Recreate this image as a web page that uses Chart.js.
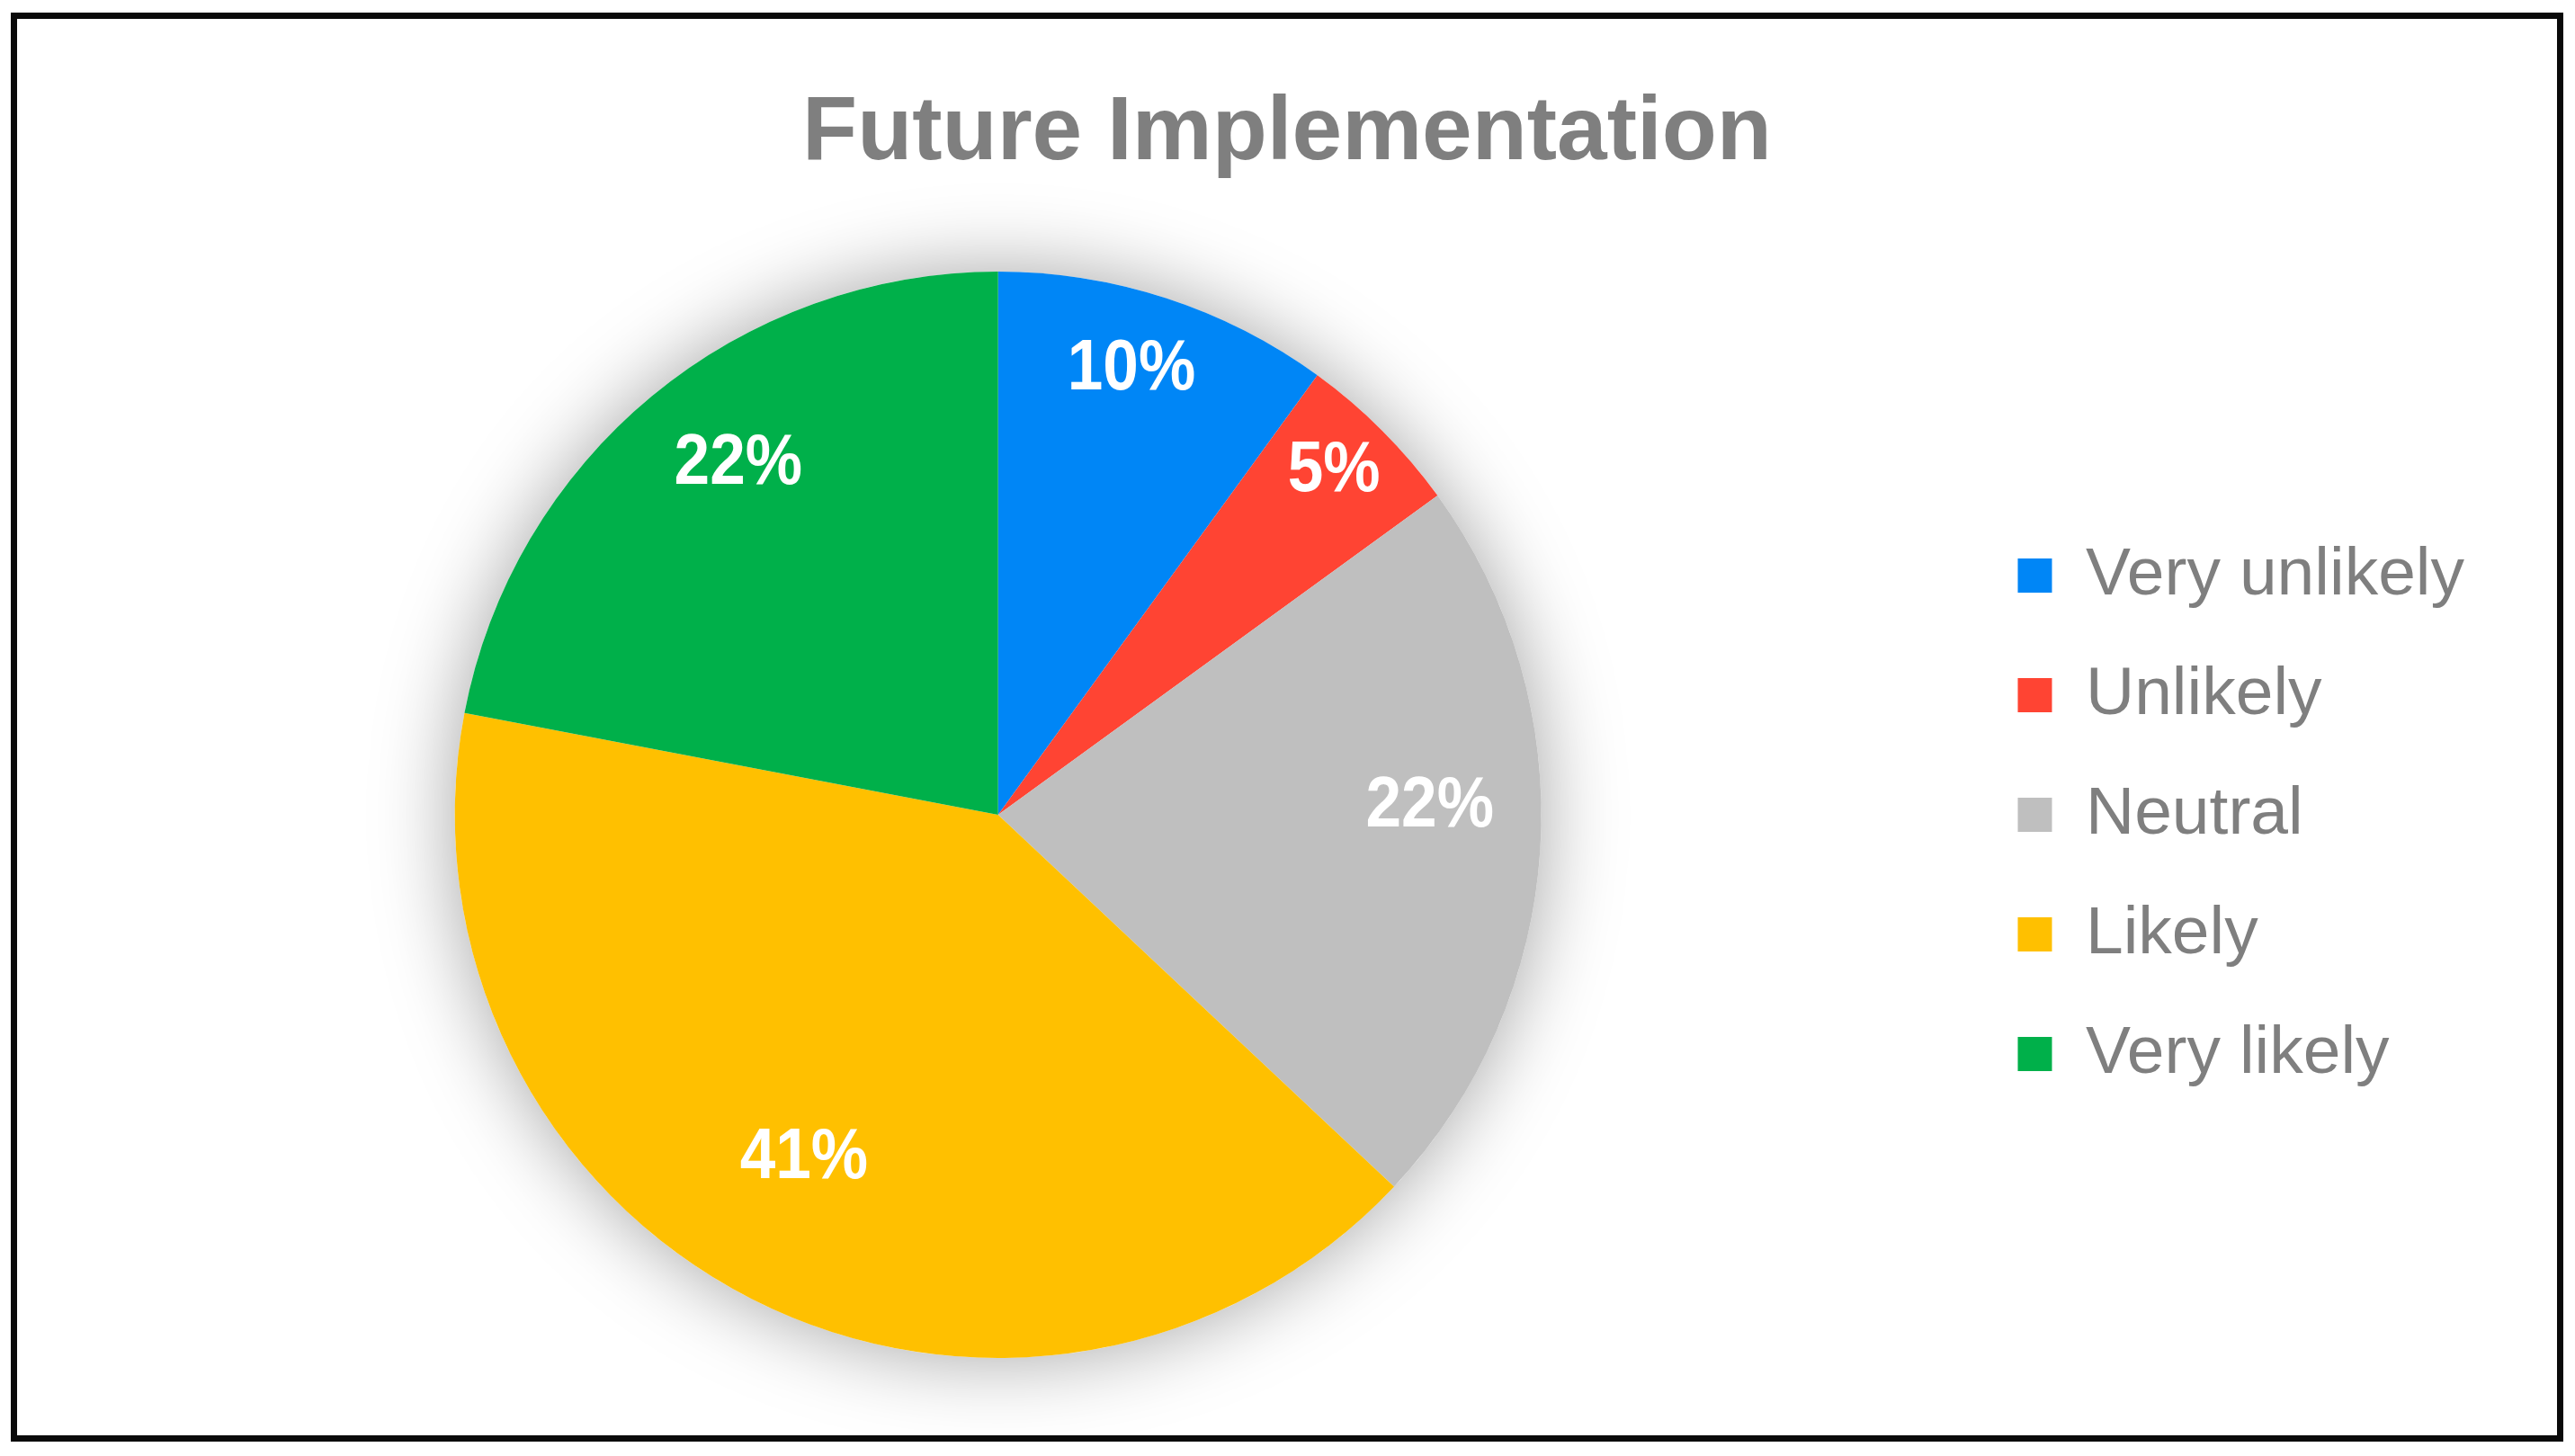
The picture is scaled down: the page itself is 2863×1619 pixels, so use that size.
<!DOCTYPE html>
<html lang="en">
<head>
  <meta charset="UTF-8" />
  <title>Future Implementation</title>
  <script src="https://cdn.jsdelivr.net/npm/chart.js"></script>
  <style>
    html, body { margin: 0; padding: 0; background: #fff; overflow: hidden; }
    #wrap { position: relative; width: 2863px; height: 1619px; }
    #pieChart { position: absolute; left: 0; top: 0; }
    #frame {
      position: absolute; left: 12px; top: 14px;
      width: 2838px; height: 1589px;
      box-sizing: border-box;
      border: 7px solid #0a0a0a;
      pointer-events: none;
    }
  </style>
</head>
<body>
<div id="wrap">
  <canvas id="pieChart" width="2863" height="1619"></canvas>
  <div id="frame"></div>
</div>

<script>
  const chartTitle = 'Future Implementation';
  const categories = ['Very unlikely', 'Unlikely', 'Neutral', 'Likely', 'Very likely'];
  const shares = [10, 5, 22, 41, 22];
  const sliceColors = ['#0086F6', '#FF4433', '#BFBFBF', '#FFC000', '#00B04A'];
  // label placement: share of radius, and a small turn (degrees) off the slice middle
  const labelDepth = [0.864, 0.89, 0.795, 0.719, 0.81];
  const labelTurn = [-1.5, -1, -5.3, 2.8, 3.4];

  const FONT = '"Liberation Sans", Arial, sans-serif';

  // soft glow under the pie
  const pieShadow = {
    id: 'pieShadow',
    beforeDatasetsDraw(chart) {
      const arc = chart.getDatasetMeta(0).data[0];
      if (!arc) return;
      const ctx = chart.ctx;
      ctx.save();
      ctx.shadowColor = 'rgba(0, 0, 0, 0.36)';
      ctx.shadowBlur = 90;
      ctx.fillStyle = '#fff';
      ctx.beginPath();
      ctx.arc(arc.x, arc.y, arc.outerRadius, 0, Math.PI * 2);
      ctx.fill();
      ctx.restore();
    }
  };

  // white percent labels inside the slices
  const sliceLabels = {
    id: 'sliceLabels',
    afterDatasetsDraw(chart) {
      const ctx = chart.ctx;
      chart.getDatasetMeta(0).data.forEach((arc, i) => {
        const mid = (arc.startAngle + arc.endAngle) / 2 + labelTurn[i] * Math.PI / 180;
        const r = arc.outerRadius * labelDepth[i];
        ctx.save();
        // +5: glyphs sit a touch below the em middle
        ctx.translate(arc.x + Math.cos(mid) * r, arc.y + Math.sin(mid) * r + 5);
        ctx.scale(0.89, 1);
        ctx.font = 'bold 80px ' + FONT;
        ctx.fillStyle = '#fff';
        ctx.textAlign = 'center';
        ctx.textBaseline = 'middle';
        ctx.fillText(shares[i] + '%', 0, 0);
        ctx.restore();
      });
    }
  };

  // title sits over the whole frame, not over the chart area
  const frameTitle = {
    id: 'frameTitle',
    afterDraw(chart, args, opts) {
      const ctx = chart.ctx;
      ctx.save();
      ctx.font = 'bold 100px ' + FONT;
      ctx.fillStyle = '#7f7f7f';
      ctx.textAlign = 'center';
      ctx.textBaseline = 'alphabetic';
      ctx.fillText(chartTitle, opts.x, opts.y);
      ctx.restore();
    }
  };

  new Chart(document.getElementById('pieChart'), {
    type: 'pie',
    data: {
      labels: categories,
      datasets: [{
        data: shares,
        backgroundColor: sliceColors,
        borderWidth: 0,
        hoverOffset: 0
      }]
    },
    options: {
      responsive: false,
      animation: false,
      events: [],
      layout: { padding: { left: 34, right: 113, top: 302, bottom: 109 } },
      plugins: {
        title: { display: false },
        tooltip: { enabled: false },
        legend: {
          position: 'right',
          align: 'center',
          labels: {
            boxWidth: 38,
            boxHeight: 38,
            padding: 58,
            color: '#7f7f7f',
            font: { family: FONT, size: 75 }
          }
        },
        frameTitle: { x: 1431, y: 177 }
      }
    },
    plugins: [pieShadow, sliceLabels, frameTitle]
  });
</script>
</body>
</html>
